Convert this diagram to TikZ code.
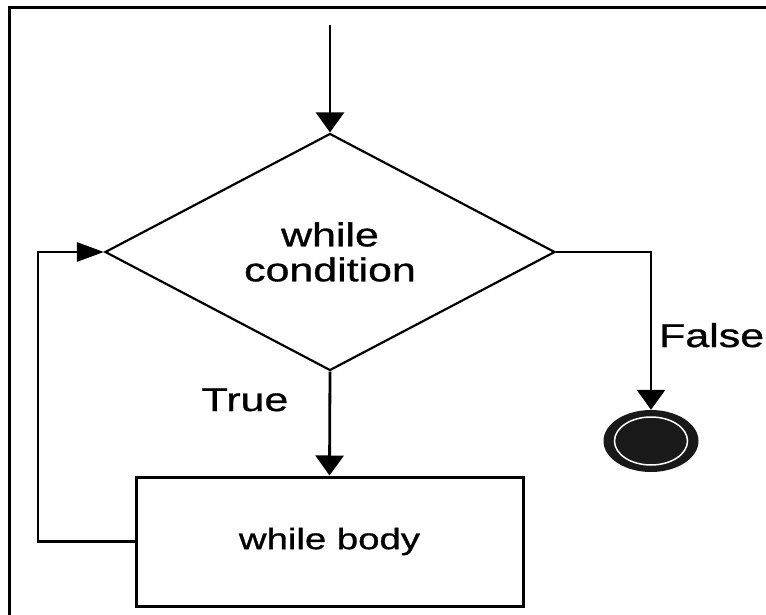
\documentclass[tikz,border=0pt]{standalone}
\usepackage{fontspec}
\usetikzlibrary{shapes.geometric,arrows.meta}
\newfontfamily\lblfont[FakeStretch=1.3,FakeBold=1]{Liberation Sans}
\tikzset{
  conn/.style={line width=2.8pt, draw=black},
  vtip/.style={-{Triangle[length=20pt,width=28pt]}},
  htip/.style={-{Triangle[length=27pt,width=19pt]}},
  decision/.style={diamond, draw, line width=2.2pt, inner sep=0pt, aspect=1.9,
    minimum width=450pt, minimum height=237pt, align=center,
    font=\lblfont\fontsize{33}{36}\selectfont},
  process/.style={rectangle, draw, line width=3pt, minimum width=387pt,
    minimum height=129pt, font=\lblfont\fontsize{29.5}{31}\selectfont},
  branchlabel/.style={font=\lblfont\fontsize{33}{35}\selectfont, inner sep=0pt},
}
\begin{document}
\begin{tikzpicture}[x=1pt, y=-1pt]
  \useasboundingbox (0,0) rectangle (766,615);
  % outer frame (only the top and left edges fall on the page)
  \draw[line width=3pt] (9,640) -- (9,8) -- (790,8);

  \coordinate (start) at (330,25);
  \node[decision] (cond) at (330,252) {while\\[-1pt]condition};
  \node[process] (body) at (329.5,541.5) {while body};

  % final state
  \node[ellipse, fill=black!90, minimum width=95pt, minimum height=62pt,
        inner sep=0pt] (end) at (651,441) {};
  \draw[white, line width=1.5pt] (end.center) ellipse [x radius=36.5pt, y radius=24pt];

  % connectors
  \draw[conn, vtip] (start) -- (cond.north);
  \draw[conn, vtip] (cond.south) -- (body.north);
  \draw[conn, htip] (body.west) -- (38,541.5) |- (cond.west);
  \draw[conn, vtip] (cond.east) -| (end.north);

  % branch labels
  \node[branchlabel, anchor=base] (truelbl) at (245,411) {True};
  \node[branchlabel, anchor=base west] (falselbl) at (659,347) {False};
\end{tikzpicture}
\end{document}
